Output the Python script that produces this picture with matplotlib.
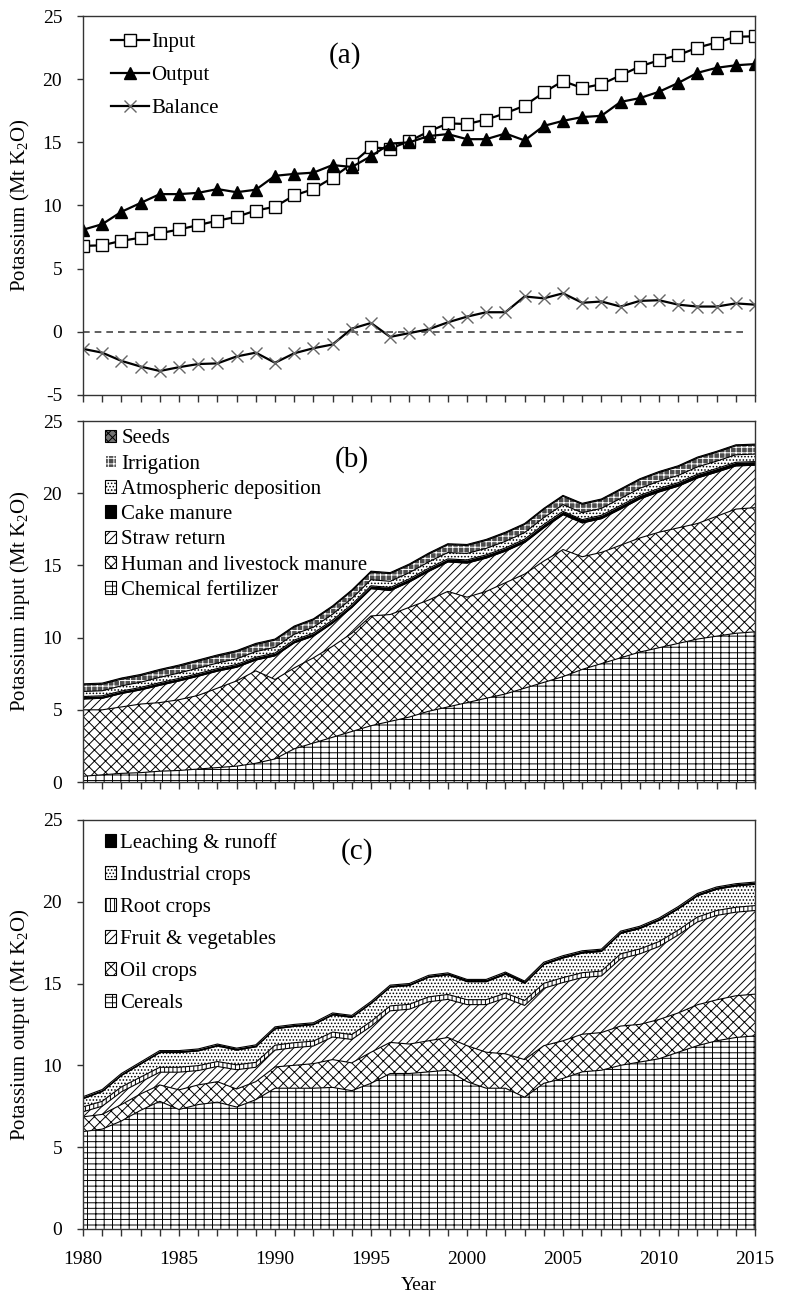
import numpy as np
import matplotlib
matplotlib.use("Agg")
import matplotlib.pyplot as plt
from matplotlib.patches import Patch
from matplotlib.ticker import MultipleLocator

plt.rcParams['font.family'] = ['Liberation Serif', 'DejaVu Serif']
plt.rcParams['mathtext.default'] = 'regular'
plt.rcParams['axes.unicode_minus'] = False
plt.rcParams['hatch.linewidth'] = 0.7

# =====================================================
# DATA (Mt K2O)
# =====================================================

years = np.arange(1980, 2016)

k_input = [6.8, 6.85, 7.2, 7.45, 7.8, 8.1, 8.45, 8.8, 9.1, 9.6, 9.9, 10.8, 11.3, 12.2,
           13.3, 14.6, 14.5, 15.1, 15.85, 16.5, 16.45, 16.8, 17.3, 17.9, 18.95, 19.85,
           19.3, 19.6, 20.3, 21.0, 21.5, 21.9, 22.5, 22.9, 23.35, 23.4]
k_output = [8.08, 8.52, 9.5, 10.2, 10.9, 10.9, 11.0, 11.3, 11.05, 11.25, 12.35, 12.5,
            12.6, 13.2, 13.05, 13.9, 14.9, 15.0, 15.5, 15.65, 15.25, 15.25, 15.7, 15.15,
            16.3, 16.7, 17.0, 17.1, 18.2, 18.5, 19.0, 19.7, 20.5, 20.9, 21.1, 21.2]
k_balance = [-1.35, -1.65, -2.3, -2.75, -3.1, -2.8, -2.55, -2.5, -1.95, -1.65, -2.45,
             -1.7, -1.3, -1.0, 0.25, 0.7, -0.4, -0.1, 0.2, 0.75, 1.2, 1.55, 1.55, 2.8,
             2.65, 3.05, 2.3, 2.4, 2.0, 2.45, 2.5, 2.15, 2.0, 2.0, 2.25, 2.15]

# (b) input sources, bottom -> top
chem_fert = [0.4, 0.5, 0.6, 0.65, 0.75, 0.8, 0.9, 1.0, 1.1, 1.3, 1.6, 2.3, 2.7, 3.1, 3.5,
             3.9, 4.2, 4.5, 4.9, 5.2, 5.5, 5.8, 6.1, 6.5, 6.9, 7.3, 7.8, 8.2, 8.6, 9.0,
             9.3, 9.6, 9.9, 10.1, 10.3, 10.4]
manure = [4.6, 4.5, 4.6, 4.75, 4.75, 4.9, 5.1, 5.5, 5.9, 6.4, 5.5, 5.6, 5.9, 6.3, 6.8,
          7.6, 7.4, 7.6, 7.7, 8.0, 7.3, 7.4, 7.7, 7.9, 8.4, 8.8, 7.8, 7.7, 7.8, 7.9, 8.0,
          8.0, 8.0, 8.3, 8.6, 8.6]
straw = [0.75, 0.8, 0.93, 0.98, 1.2, 1.3, 1.33, 1.18, 0.95, 0.75, 1.64, 1.74, 1.51, 1.61,
         1.79, 1.89, 1.66, 1.76, 1.99, 2.04, 2.36, 2.31, 2.19, 2.19, 2.31, 2.41, 2.34,
         2.34, 2.51, 2.71, 2.79, 2.89, 3.16, 3.06, 2.99, 2.94]
cake = [0.17, 0.17, 0.17, 0.17, 0.18, 0.18, 0.18, 0.18, 0.19, 0.19, 0.19, 0.19, 0.2, 0.2,
        0.2, 0.2, 0.21, 0.21, 0.21, 0.21, 0.22, 0.22, 0.22, 0.22, 0.23, 0.23, 0.23, 0.23,
        0.24, 0.24, 0.24, 0.24, 0.25, 0.25, 0.25, 0.25]
atm_dep = [0.35, 0.35, 0.36, 0.36, 0.37, 0.37, 0.38, 0.38, 0.39, 0.39, 0.4, 0.4, 0.41,
           0.41, 0.42, 0.42, 0.43, 0.43, 0.44, 0.44, 0.45, 0.45, 0.46, 0.46, 0.47, 0.47,
           0.48, 0.48, 0.49, 0.49, 0.5, 0.5, 0.51, 0.51, 0.52, 0.52]
irrigation = [0.45, 0.45, 0.46, 0.46, 0.47, 0.47, 0.48, 0.48, 0.49, 0.49, 0.5, 0.5, 0.51,
              0.51, 0.52, 0.52, 0.53, 0.53, 0.54, 0.54, 0.55, 0.55, 0.56, 0.56, 0.57,
              0.57, 0.58, 0.58, 0.59, 0.59, 0.6, 0.6, 0.61, 0.61, 0.62, 0.62]
seeds = [0.08, 0.08, 0.08, 0.08, 0.08, 0.08, 0.08, 0.08, 0.08, 0.08, 0.07, 0.07, 0.07,
         0.07, 0.07, 0.07, 0.07, 0.07, 0.07, 0.07, 0.07, 0.07, 0.07, 0.07, 0.07, 0.07,
         0.07, 0.07, 0.07, 0.07, 0.07, 0.07, 0.07, 0.07, 0.07, 0.07]

# (c) output sinks, bottom -> top
cereals = [5.95, 6.1, 6.6, 7.25, 7.8, 7.3, 7.6, 7.75, 7.45, 7.9, 8.6, 8.6, 8.6, 8.65,
           8.45, 8.9, 9.5, 9.5, 9.6, 9.7, 9.0, 8.6, 8.6, 8.05, 8.9, 9.2, 9.6, 9.7, 10.0,
           10.2, 10.4, 10.8, 11.2, 11.5, 11.7, 11.8]
oil_crops = [0.9, 0.9, 1.0, 1.0, 1.0, 1.2, 1.2, 1.25, 1.1, 1.1, 1.3, 1.4, 1.5, 1.7, 1.7,
             1.9, 1.9, 1.8, 1.9, 2.0, 2.2, 2.2, 2.1, 2.3, 2.3, 2.3, 2.3, 2.3, 2.4, 2.3,
             2.4, 2.4, 2.5, 2.5, 2.55, 2.55]
fruit_veg = [0.31, 0.5, 0.78, 0.73, 0.78, 1.08, 0.88, 0.93, 1.18, 0.88, 1.03, 1.08, 1.08,
             1.38, 1.43, 1.58, 1.93, 2.13, 2.38, 2.33, 2.51, 2.91, 3.41, 3.31, 3.51, 3.56,
             3.46, 3.46, 4.11, 4.31, 4.46, 4.76, 5.06, 5.16, 5.11, 5.11]
root_crops = [0.3, 0.3, 0.3, 0.3, 0.3, 0.3, 0.3, 0.3, 0.3, 0.3, 0.3, 0.3, 0.3, 0.3, 0.3,
              0.3, 0.3, 0.3, 0.3, 0.3, 0.3, 0.3, 0.3, 0.3, 0.3, 0.3, 0.3, 0.3, 0.3, 0.3,
              0.3, 0.3, 0.3, 0.3, 0.3, 0.3]
industrial = [0.5, 0.6, 0.7, 0.8, 0.9, 0.9, 0.9, 0.95, 0.9, 0.95, 1.0, 1.0, 1.0, 1.05,
              1.05, 1.1, 1.15, 1.15, 1.2, 1.2, 1.1, 1.1, 1.15, 1.05, 1.15, 1.2, 1.2, 1.2,
              1.25, 1.25, 1.3, 1.3, 1.3, 1.3, 1.3, 1.3]
leaching = [0.12, 0.12, 0.12, 0.12, 0.12, 0.12, 0.12, 0.12, 0.12, 0.12, 0.12, 0.12, 0.12,
            0.12, 0.12, 0.12, 0.12, 0.12, 0.12, 0.12, 0.14, 0.14, 0.14, 0.14, 0.14, 0.14,
            0.14, 0.14, 0.14, 0.14, 0.14, 0.14, 0.14, 0.14, 0.14, 0.14]

# =====================================================
# STYLES
# =====================================================

# label, face, hatch colour, hatch
styles_b = [
    ("Chemical fertilizer", "white", "black", "---||"),
    ("Human and livestock manure", "white", "black", "xxx"),
    ("Straw return", "white", "black", "////"),
    ("Cake manure", "black", "black", None),
    ("Atmospheric deposition", "white", "black", "....."),
    ("Irrigation", "0.3", "white", "+++"),
    ("Seeds", "0.45", "black", "xxxx"),
]
styles_c = [
    ("Cereals", "white", "black", "---||"),
    ("Oil crops", "white", "black", "xxx"),
    ("Fruit & vegetables", "white", "black", "////"),
    ("Root crops", "white", "black", "||||"),
    ("Industrial crops", "white", "black", "....."),
    ("Leaching & runoff", "black", "black", None),
]

spine_col = "#333333"


def style_axis(ax, ymin, label, show_xlabels):
    ax.set_xlim(1980, 2015)
    ax.set_ylim(ymin, 25)
    ax.xaxis.set_major_locator(MultipleLocator(5))
    ax.xaxis.set_minor_locator(MultipleLocator(1))
    ax.yaxis.set_major_locator(MultipleLocator(5))
    ax.tick_params(axis="x", which="both", direction="out", length=5, width=1.0,
                   color=spine_col, labelsize=14, pad=11, labelbottom=show_xlabels)
    ax.tick_params(axis="y", direction="out", length=4, width=1.0,
                   color=spine_col, labelsize=14, pad=11)
    for s in ax.spines.values():
        s.set_color(spine_col)
        s.set_linewidth(1.0)
    ax.set_ylabel(label, fontsize=15)
    ax.yaxis.set_label_coords(-0.076, 0.5)


def stacked(ax, layers, styles):
    base = np.zeros(len(years))
    handles = []
    for vals, (lab, fc, hc, hatch) in zip(layers, styles):
        top = base + np.array(vals)
        ax.fill_between(years, base, top, facecolor=fc, edgecolor=hc,
                        hatch=hatch, linewidth=0)
        ax.plot(years, top, color="black", lw=0.8)
        handles.append(Patch(facecolor=fc, edgecolor=hc, hatch=hatch, lw=0.8, label=lab))
        base = top
    return handles


fig = plt.figure(figsize=(8, 13.01), dpi=100)

ax_a = fig.add_axes([0.10375, 0.6964, 0.84, 0.2913])
ax_b = fig.add_axes([0.10375, 0.3989, 0.84, 0.2775])
ax_c = fig.add_axes([0.10375, 0.0554, 0.84, 0.3144])

# ----- (a) -----
ax_a.hlines(0, 1980, 2014.6, colors="#444444", linestyles=(0, (4, 3)), lw=1.2)
ax_a.plot(years, k_input, color="black", lw=1.6, marker="s", ms=8,
          mfc="white", mec="black", mew=1.0, label="Input")
ax_a.plot(years, k_output, color="black", lw=1.6, marker="^", ms=8,
          mfc="black", mec="black", label="Output")
ax_a.plot(years, k_balance, color="black", lw=1.6, marker="x", ms=8,
          mec="#666666", mew=1.0, label="Balance")
style_axis(ax_a, -5, r"Potassium (Mt K$_2$O)", False)
ax_a.legend(loc="upper left", bbox_to_anchor=(0.03, 0.978), frameon=False,
            fontsize=15, handlelength=1.8, handletextpad=0.1, labelspacing=0.64,
            borderaxespad=0)
ax_a.text(0.39, 0.897, "(a)", transform=ax_a.transAxes, fontsize=21,
          ha="center", va="center")

# ----- (b) -----
h_b = stacked(ax_b, [chem_fert, manure, straw, cake, atm_dep, irrigation, seeds], styles_b)
style_axis(ax_b, 0, r"Potassium input (Mt K$_2$O)", False)
ax_b.legend(handles=h_b[::-1], loc="upper left", bbox_to_anchor=(0.02, 1.0),
            frameon=False, fontsize=15, handlelength=0.55, handleheight=0.55,
            handletextpad=0.25, labelspacing=0.3, borderaxespad=0)
ax_b.text(0.40, 0.892, "(b)", transform=ax_b.transAxes, fontsize=21,
          ha="center", va="center")

# ----- (c) -----
h_c = stacked(ax_c, [cereals, oil_crops, fruit_veg, root_crops, industrial, leaching], styles_c)
style_axis(ax_c, 0, r"Potassium output (Mt K$_2$O)", True)
ax_c.legend(handles=h_c[::-1], loc="upper left", bbox_to_anchor=(0.02, 0.988),
            frameon=False, fontsize=15, handlelength=0.55, handleheight=0.55,
            handletextpad=0.2, labelspacing=0.62, borderaxespad=0)
ax_c.text(0.408, 0.922, "(c)", transform=ax_c.transAxes, fontsize=21,
          ha="center", va="center")

fig.text(0.524, 1 - 1285 / 1301, "Year", fontsize=14, ha="center", va="center")

fig.savefig("out.png", dpi=100)
